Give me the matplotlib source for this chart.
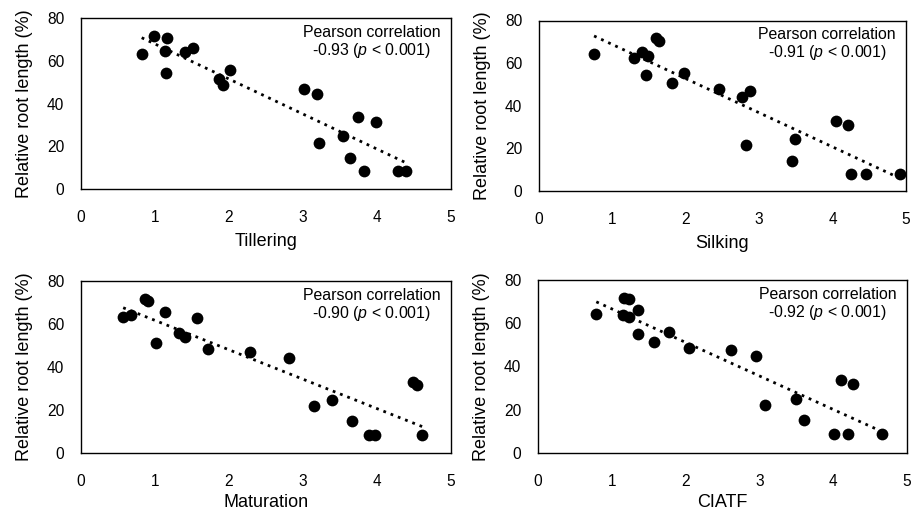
import numpy as np
import matplotlib
matplotlib.use("Agg")
import matplotlib.pyplot as plt

# values (one point per genotype)
tillering_x = [0.82, 0.99, 1.16, 1.14, 1.15, 1.41, 1.51, 1.87, 1.92, 2.01,
               3.01, 3.19, 3.22, 3.54, 3.74, 3.99, 3.64, 3.82, 4.29, 4.39]
tillering_y = [63.0, 71.6, 70.7, 64.5, 54.5, 63.9, 65.9, 51.3, 48.5, 55.9,
               47.0, 44.4, 21.6, 24.6, 33.5, 31.5, 14.5, 8.4, 8.3, 8.3]

silking_x = [0.75, 1.60, 1.63, 1.30, 1.40, 1.48, 1.46, 1.81, 1.97, 2.45,
             2.77, 2.88, 2.82, 3.49, 3.45, 4.05, 4.21, 4.25, 4.45, 4.92]
silking_y = [64.1, 71.7, 70.6, 62.5, 65.3, 63.3, 54.3, 50.7, 55.2, 48.0,
             44.3, 46.8, 21.4, 24.2, 14.1, 32.9, 31.1, 7.8, 7.8, 7.8]

maturation_x = [0.57, 0.68, 0.87, 0.90, 1.01, 1.14, 1.33, 1.41, 1.57, 1.72,
                2.28, 2.81, 3.15, 3.39, 3.66, 3.89, 3.97, 4.48, 4.54, 4.61]
maturation_y = [63.4, 64.2, 71.6, 70.7, 51.2, 65.7, 55.7, 54.1, 62.8, 48.5,
                47.1, 44.3, 21.9, 24.7, 14.7, 8.5, 8.5, 33.2, 31.6, 8.5]

ciatf_x = [0.79, 1.16, 1.23, 1.15, 1.23, 1.35, 1.35, 1.57, 1.78, 2.04,
           2.61, 2.95, 3.08, 3.50, 3.60, 4.11, 4.27, 4.01, 4.20, 4.66]
ciatf_y = [64.5, 71.7, 71.0, 63.7, 63.0, 65.9, 54.8, 51.5, 56.0, 48.7,
           47.5, 45.0, 22.2, 25.0, 15.3, 33.6, 31.9, 8.9, 8.9, 8.9]

stage_names = ["Tillering", "Silking", "Maturation", "CIATF"]
pearson_r = ["-0.93", "-0.91", "-0.90", "-0.92"]
x_ticks = [0, 1, 2, 3, 4, 5]
y_ticks = [0, 20, 40, 60, 80]
y_label = "Relative root length (%)"


def main():
    plt.rcParams["font.family"] = ["Liberation Sans", "DejaVu Sans"]
    plt.rcParams["mathtext.fontset"] = "custom"
    plt.rcParams["mathtext.rm"] = "Liberation Sans"
    plt.rcParams["mathtext.it"] = "Liberation Sans:italic"

    W, H = 911, 512
    fig = plt.figure(figsize=(W / 100, H / 100), dpi=100)

    # plot-area boxes in pixels: left, right, top, bottom
    boxes = [(81, 451, 18, 189), (539, 906, 20.5, 191),
             (81, 451, 281, 453), (538, 907, 280, 453)]
    xs = [tillering_x, silking_x, maturation_x, ciatf_x]
    ys = [tillering_y, silking_y, maturation_y, ciatf_y]

    for i in range(4):
        l, r, t, b = boxes[i]
        ax = fig.add_axes([l / W, 1 - b / H, (r - l) / W, (b - t) / H])
        x = np.array(xs[i])
        y = np.array(ys[i])

        ax.scatter(x, y, s=72, color="black", zorder=3, linewidths=0)

        # linear trend line over the data range
        k, c = np.polyfit(x, y, 1)
        xl = np.array([x.min(), x.max()])
        ax.plot(xl, k * xl + c, color="black", linestyle=(0, (1, 1.8)),
                linewidth=2, zorder=2)

        ax.set_xlim(0, 5)
        ax.set_ylim(0, 80)
        ax.set_xticks(x_ticks)
        ax.set_yticks(y_ticks)
        ax.tick_params(length=0, labelsize=11.2)
        ax.tick_params(axis="x", pad=15)
        ax.tick_params(axis="y", pad=12)
        for s in ax.spines.values():
            s.set_linewidth(1.0)

        ax.set_xlabel(stage_names[i], fontsize=13,
                      labelpad=6 if i < 2 else 4)
        ax.set_ylabel(y_label, fontsize=13, labelpad=10)

        ax.text(0.785, 0.96,
                "Pearson correlation\n" + pearson_r[i] + " ($p$ < 0.001)",
                transform=ax.transAxes, ha="center", va="top",
                multialignment="center", fontsize=11.4, linespacing=1.05)

    fig.savefig("out.png", dpi=100)


if __name__ == "__main__":
    main()
